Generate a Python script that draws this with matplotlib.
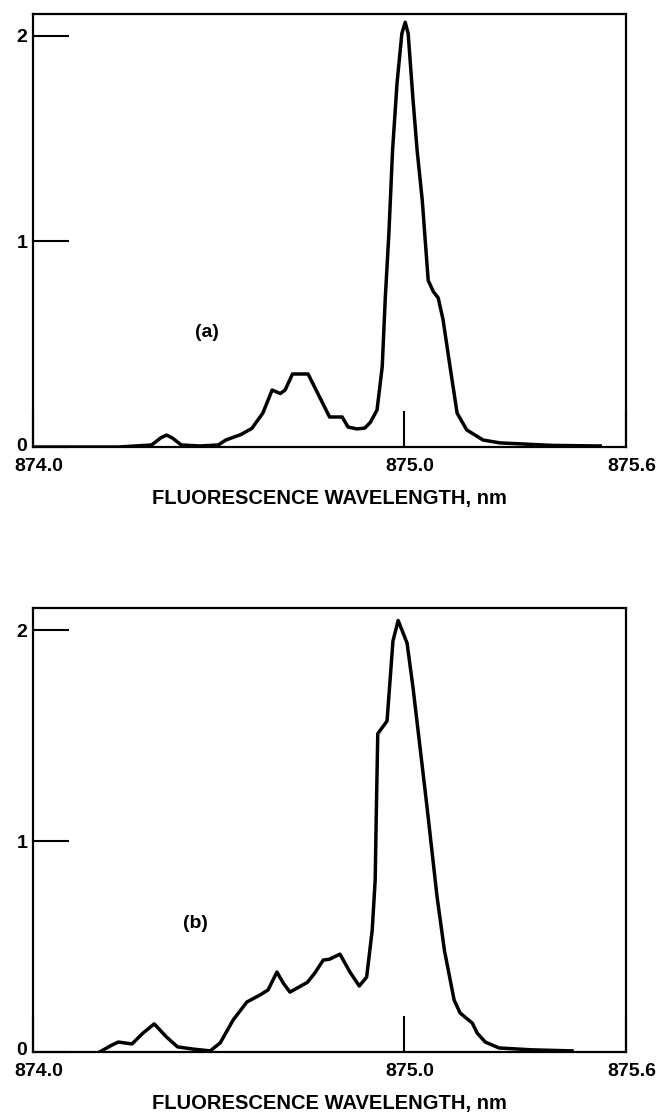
import numpy as np
import matplotlib.pyplot as plt
from matplotlib.transforms import ScaledTranslation

plt.rcParams['font.family'] = ['Liberation Sans', 'DejaVu Sans']
plt.rcParams['font.weight'] = 'bold'
plt.rcParams['axes.labelweight'] = 'bold'

# spectrum (a)
wl_a = [874.00, 874.23, 874.32, 874.345, 874.36, 874.375, 874.40, 874.45, 874.50,
        874.52, 874.56, 874.59, 874.62, 874.645, 874.667, 874.68, 874.70, 874.742,
        874.80, 874.834, 874.85, 874.874, 874.895, 874.91, 874.928, 874.942, 874.95,
        874.96, 874.97, 874.982, 874.995, 875.004, 875.012, 875.025, 875.036,
        875.05, 875.066, 875.08, 875.093, 875.106, 875.125, 875.144, 875.17,
        875.214, 875.26, 875.40, 875.53]
int_a = [0.0, 0.0, 0.01, 0.045, 0.058, 0.045, 0.01, 0.005, 0.01,
         0.034, 0.06, 0.09, 0.165, 0.277, 0.26, 0.277, 0.355, 0.355,
         0.146, 0.146, 0.097, 0.088, 0.092, 0.12, 0.18, 0.39, 0.715,
         1.04, 1.445, 1.77, 2.01, 2.065, 2.01, 1.69, 1.445,
         1.20, 0.81, 0.755, 0.725, 0.62, 0.39, 0.165, 0.083,
         0.034, 0.02, 0.008, 0.005]

# spectrum (b)
wl_b = [874.18, 874.21, 874.23, 874.267, 874.297, 874.327, 874.36, 874.39, 874.43,
        874.478, 874.505, 874.54, 874.577, 874.612, 874.634, 874.658, 874.675,
        874.693, 874.74, 874.76, 874.783, 874.80, 874.828, 874.855, 874.88, 874.90,
        874.915, 874.923, 874.926, 874.93, 874.955, 874.963, 874.971, 874.985,
        875.009, 875.025, 875.044, 875.063, 875.09, 875.11, 875.136, 875.152,
        875.185, 875.198, 875.22, 875.257, 875.346, 875.454]
int_b = [0.0, 0.03, 0.047, 0.038, 0.09, 0.133, 0.071, 0.024, 0.014,
         0.005, 0.043, 0.152, 0.237, 0.27, 0.294, 0.379, 0.327,
         0.284, 0.33, 0.374, 0.436, 0.44, 0.464, 0.379, 0.313, 0.355,
         0.578, 0.815, 1.13, 1.51, 1.57, 1.76, 1.95, 2.047,
         1.94, 1.73, 1.445, 1.16, 0.735, 0.48, 0.246, 0.185,
         0.137, 0.09, 0.047, 0.019, 0.01, 0.005]

xticks = [874.0, 875.0, 875.6]
xtick_labels = ['874.0', '875.0', '875.6']
yticks = [0, 1, 2]

fig = plt.figure(figsize=(6.64, 11.12), dpi=100)
ax_a = fig.add_axes([0.0497, 0.598, 0.8933, 0.3894])
ax_b = fig.add_axes([0.0497, 0.054, 0.8933, 0.399])

shift_right = ScaledTranslation(6 / 100, 0, fig.dpi_scale_trans)
shift_up = ScaledTranslation(0, 3 / 100, fig.dpi_scale_trans)

for ax, wl, inten, tag, tag_pos in [(ax_a, wl_a, int_a, '(a)', (874.47, 0.555)),
                                    (ax_b, wl_b, int_b, '(b)', (874.437, 0.61))]:
    ax.plot(wl, inten, color='black', lw=2.5, solid_joinstyle='round')
    ax.set_xlim(874.0, 875.6)
    ax.set_ylim(0, 2.105)
    ax.set_xticks(xticks)
    ax.set_xticklabels(xtick_labels)
    ax.set_yticks(yticks)
    ax.tick_params(direction='in', length=26, width=1.5, labelsize=14)
    ax.tick_params(axis='x', pad=8)
    ax.tick_params(axis='y', pad=4)
    for lab in ax.get_xticklabels():
        lab.set_transform(lab.get_transform() + shift_right)
    ylab0 = ax.get_yticklabels()[0]
    ylab0.set_transform(ylab0.get_transform() + shift_up)
    for s in ax.spines.values():
        s.set_linewidth(1.6)
    ax.text(tag_pos[0], tag_pos[1], tag, fontsize=14, ha='center', va='center')
    ax.set_xlabel('FLUORESCENCE WAVELENGTH, nm', fontsize=14.5, labelpad=10)

fig.savefig('out.png', dpi=100)
